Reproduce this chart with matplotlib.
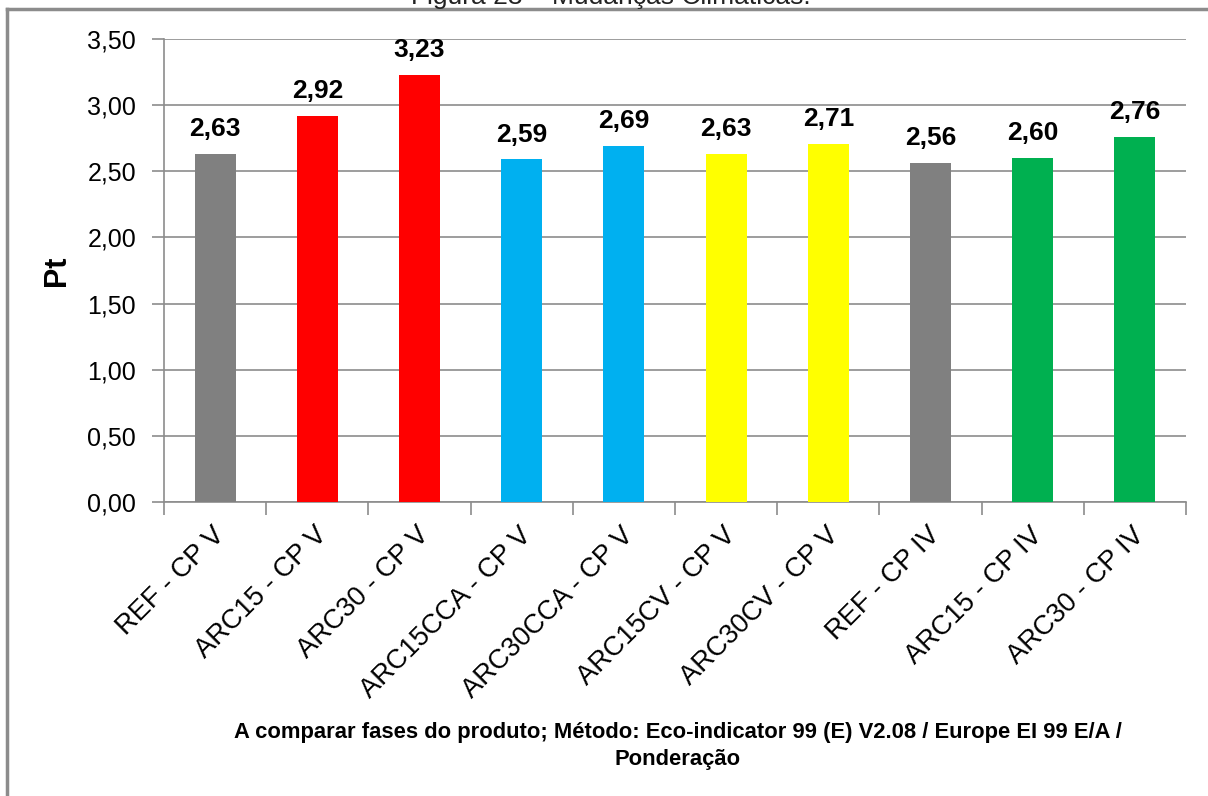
import matplotlib.pyplot as plt
import numpy as np

plt.rcParams['font.family'] = ['Liberation Sans', 'DejaVu Sans']

# Climate change impact per scenario (Eco-indicator 99, Pt)
categories = ['REF - CP V', 'ARC15 - CP V', 'ARC30 - CP V', 'ARC15CCA - CP V',
              'ARC30CCA - CP V', 'ARC15CV - CP V', 'ARC30CV - CP V',
              'REF - CP IV', 'ARC15 - CP IV', 'ARC30 - CP IV']
values = [2.63, 2.92, 3.23, 2.59, 2.69, 2.63, 2.71, 2.56, 2.60, 2.76]
colors = ['#808080', '#FF0000', '#FF0000', '#00B0F0', '#00B0F0',
          '#FFFF00', '#FFFF00', '#808080', '#00B050', '#00B050']
yticks = [0.0, 0.5, 1.0, 1.5, 2.0, 2.5, 3.0, 3.5]

fig = plt.figure(figsize=(12.08, 7.96), dpi=100)
ax = fig.add_axes([164/1208, 1-502/796, (1186-164)/1208, (502-39)/796])

x = np.arange(len(categories))
ax.bar(x, values, width=0.4, color=colors, zorder=3)

for xi, v in zip(x, values):
    ax.text(xi, v + 0.135, ('%.2f' % v).replace('.', ','), ha='center', va='baseline',
            fontsize=19, fontweight='bold', zorder=4)

ax.set_xlim(-0.5, len(categories) - 0.5)
ax.set_ylim(0, 3.5)
ax.set_yticks(yticks)
ax.set_yticklabels([('%.2f' % t).replace('.', ',') for t in yticks], fontsize=18)
ax.yaxis.grid(True, color='#8c8c8c', linewidth=1.2, zorder=0)
ax.tick_params(axis='y', length=9, color='#8c8c8c', width=1.2, pad=11)

# tick marks between categories, labels drawn separately
ax.set_xticks(np.arange(len(categories) + 1) - 0.5)
ax.set_xticklabels([])
ax.tick_params(axis='x', length=9, color='#8c8c8c', width=1.2, direction='out')
for xi, lab in zip(x, categories):
    ax.text(xi - 0.03, -0.15, lab, rotation=45, ha='right', va='top',
            rotation_mode='anchor', fontsize=19.5, transform=ax.transData)

for side in ['top', 'right']:
    ax.spines[side].set_visible(False)
for side in ['left', 'bottom']:
    ax.spines[side].set_color('#8c8c8c')
    ax.spines[side].set_linewidth(1.2)

ax.set_ylabel('Pt', fontsize=22, fontweight='bold')
ax.yaxis.set_label_coords(-0.09, 0.5)

fig.text(678/1208, 1-746/796,
         'A comparar fases do produto; Método: Eco-indicator 99 (E) V2.08 / Europe EI 99 E/A /\nPonderação',
         ha='center', va='center', fontsize=15.8, fontweight='bold', linespacing=1.35)

# title partly above the frame
fig.text(611/1208, 1-4/796, 'Figura 23 – Mudanças Climáticas.', ha='center', va='baseline',
         fontsize=19, color='#222222')

# outer frame lines
fig.add_artist(plt.Line2D([7/1208, 1], [1-9/796, 1-9/796], color='#8c8c8c', linewidth=2.5,
                          transform=fig.transFigure))
fig.add_artist(plt.Line2D([7/1208, 7/1208], [0, 1-9/796], color='#8c8c8c', linewidth=2.5,
                          transform=fig.transFigure))

fig.savefig('out.png', dpi=100)
